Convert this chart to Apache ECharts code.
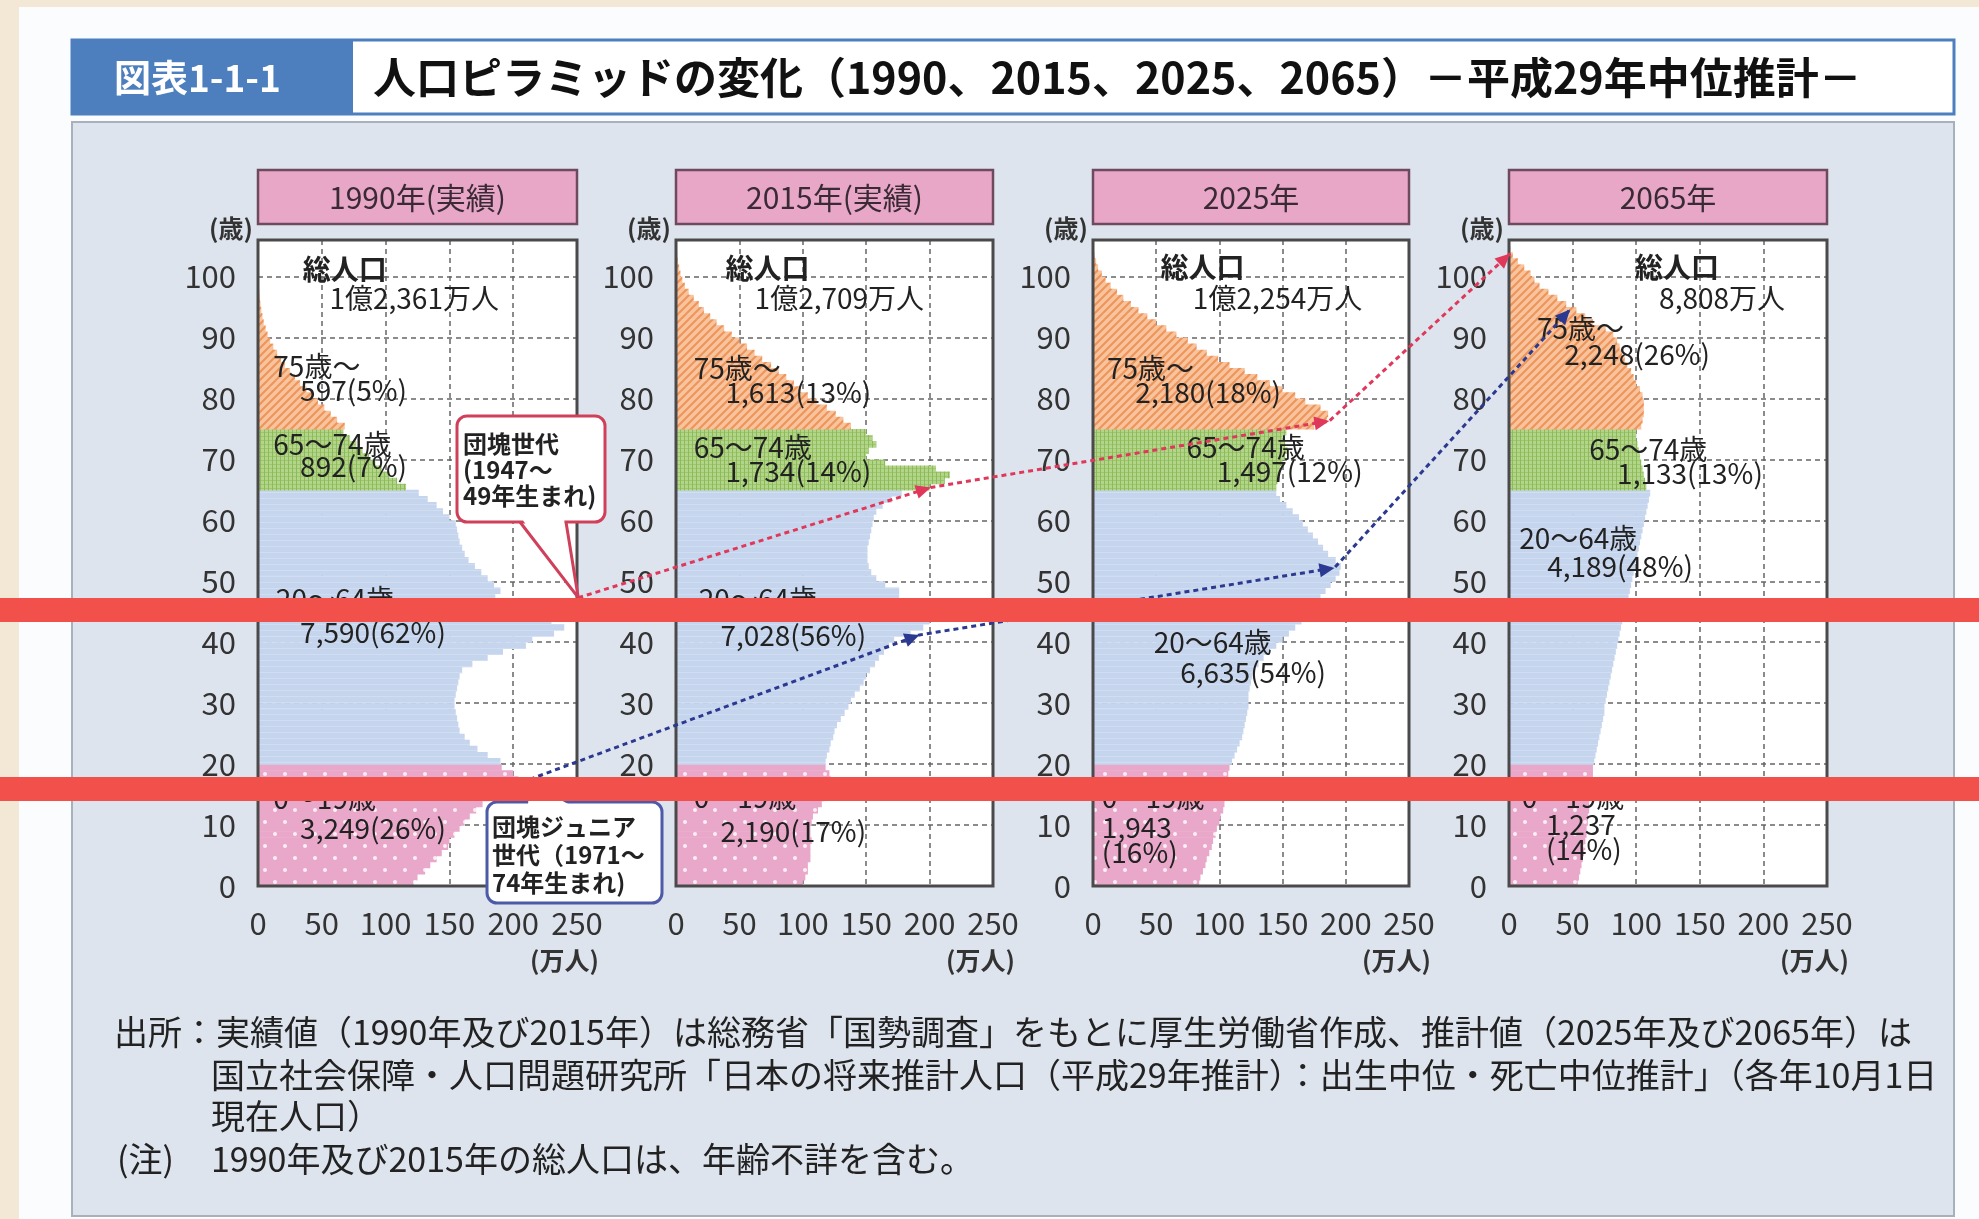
<!DOCTYPE html>
<html>
<head>
<meta charset="utf-8">
<script src="https://cdn.jsdelivr.net/npm/echarts@6/dist/echarts.min.js"></script>
<style>
html, body { margin: 0; padding: 0; background: #f3e8d6; }
#main { width: 1979px; height: 1219px; }
</style>
</head>
<body>
<div id="main"></div>
<script>
// population by single year of age, starting at age 0 (万人)
const pop1990 = [
  122, 125, 131, 135, 140, 144, 149, 150, 154, 158,
  162, 166, 171, 176, 182, 190, 198, 204, 200, 191,
  190, 180, 172, 166, 162, 158, 157, 156, 155, 154,
  154, 155, 156, 157, 158, 160, 168, 180, 192, 210,
  215, 232, 240, 230, 205, 180, 178, 186, 190, 185,
  180, 175, 170, 165, 162, 160, 158, 157, 156, 155,
  150, 145, 140, 133, 126,
  116, 109, 103, 97, 92, 87, 82, 77, 72, 67,
  68, 62, 57, 52, 47, 42, 38, 33, 29, 25,
  21, 18, 15, 12, 9.5, 7.5, 6, 4.5, 3.5, 2.6,
  2, 1.4, 1, 0.7, 0.5, 0.3, 0.2
];
const pop2015 = [
  100, 102, 104, 104, 106, 106, 106, 107, 106, 106,
  107, 108, 112, 115, 117, 119, 120, 122, 121, 118,
  118, 119, 121, 122, 124, 125, 127, 130, 133, 136,
  138, 141, 145, 148, 150, 153, 157, 160, 164, 168,
  172, 185, 195, 200, 195, 185, 180, 176, 176, 165,
  158, 154, 152, 151, 151, 151, 152, 153, 154, 155,
  156, 158, 163, 170, 178,
  200, 212, 216, 205, 165, 150, 152, 158, 155, 150,
  138, 132, 126, 119, 111, 104, 98, 93, 87, 81,
  75, 68, 62, 56, 50, 44, 38, 32, 27, 22,
  18, 14, 10, 7, 5, 3.5, 2.5, 1.5, 1, 0.6
];
const pop2025 = [
  84, 85, 87, 89, 90, 92, 94, 95, 97, 98,
  100, 101, 103, 104, 104, 105, 105, 106, 107, 108,
  110, 112, 114, 116, 118, 119, 120, 121, 122, 123,
  123, 123, 124, 125, 126, 128, 131, 135, 140, 145,
  150, 155, 160, 165, 170, 174, 177, 180, 184, 188,
  192, 195, 196, 192, 186, 182, 178, 174, 170, 166,
  163, 158, 153, 148, 145,
  145, 146, 147, 148, 150, 152, 154, 152, 150, 153,
  175, 185, 186, 180, 168, 160, 150, 140, 130, 120,
  108, 99, 90, 82, 75, 66, 58, 50, 43, 36,
  30, 24, 19, 14, 10, 7, 4, 2.5, 1.2
];
const pop2065 = [
  54, 55, 56, 57, 58, 59, 60, 60, 61, 61,
  62, 62, 63, 63, 64, 64, 65, 65, 66, 66,
  67, 68, 69, 70, 71, 72, 73, 74, 75, 75,
  76, 77, 78, 79, 80, 81, 82, 83, 84, 85,
  86, 87, 88, 89, 90, 91, 92, 94, 95, 96,
  97, 98, 99, 100, 101, 102, 103, 104, 105, 106,
  107, 108, 109, 110, 111,
  108, 107, 106, 105, 104, 103, 102, 101, 100, 100,
  104, 105, 106, 106, 106, 105, 103, 100, 98, 96,
  93, 91, 89, 87, 85, 82, 76, 66, 60, 53,
  45, 38, 31, 24, 20, 17, 12, 7, 3, 1
];
const pops = [pop1990, pop2015, pop2025, pop2065];

const panelTitles = ["1990年(実績)", "2015年(実績)", "2025年", "2065年"];
const totals = ["1億2,361万人", "1億2,709万人", "1億2,254万人", "8,808万人"];
const groupNames = ["75歳～", "65～74歳", "20～64歳", "0～19歳"];
const groupValues = [
  ["597(5%)", "892(7%)", "7,590(62%)", "3,249(26%)"],
  ["1,613(13%)", "1,734(14%)", "7,028(56%)", "2,190(17%)"],
  ["2,180(18%)", "1,497(12%)", "6,635(54%)", "1,943\n(16%)"],
  ["2,248(26%)", "1,133(13%)", "4,189(48%)", "1,237\n(14%)"]
];
const popMax = 250, popStep = 50, ageMax = 106, ageStep = 10;

// cohort paths: [panel, 万人, age]
const dankai = [[0, 251, 47.3], [1, 201, 65.4], [2, 187, 76.3], [3, 1, 103.8]];
const dankaiJr = [[0, 213, 17.5], [1, 192, 41.2], [2, 191, 52.2], [3, 48, 94.6]];

const title = "人口ピラミッドの変化（1990、2015、2025、2065）－平成29年中位推計－";
const footer = [
  "出所：実績値（1990年及び2015年）は総務省「国勢調査」をもとに厚生労働省作成、推計値（2025年及び2065年）は",
  "国立社会保障・人口問題研究所「日本の将来推計人口（平成29年推計）：出生中位・死亡中位推計」（各年10月1日",
  "現在人口）",
  "1990年及び2015年の総人口は、年齢不詳を含む。"
];

// layout
const FONT = '"Noto Sans CJK JP", "Noto Sans", sans-serif';
const grids = [
  { left: 258, top: 240, width: 319, height: 646 },
  { left: 676, top: 240, width: 317, height: 646 },
  { left: 1093, top: 240, width: 316, height: 646 },
  { left: 1509, top: 240, width: 318, height: 646 }
];
// [万人, age] anchors for: 総人口, total, then name/value for each group
const labelPos = [
  [[35, 101.2], [56, 96.5], [12, 85.2], [33, 81.4], [12, 72.4], [33, 68.8], [14, 47], [33, 41.7], [12, 14.3], [33, 9.4]],
  [[39, 101.3], [62, 96.5], [14, 85], [39, 81], [14, 72], [39, 68], [18, 47], [35, 41.2], [14, 14.5], [35, 8.9]],
  [[53.5, 101.5], [79, 96.5], [11, 85], [33.5, 81], [74, 72], [98, 68], [48, 39.9], [69, 35.1], [7, 14.5], [7, 7.6]],
  [[99, 101.5], [118, 96.5], [22, 91.5], [43.5, 87.2], [63, 71.6], [85, 67.7], [8, 57.1], [30, 52.4], [10, 14.5], [29, 8.1]]
];

function tile(w, h, paint) {
  const c = document.createElement("canvas");
  c.width = w;
  c.height = h;
  paint(c.getContext("2d"));
  return { image: c, repeat: "repeat" };
}
const fillOld = tile(8, 8, function (g) {
  g.fillStyle = "#f8c49d";
  g.fillRect(0, 0, 8, 8);
  g.strokeStyle = "#ee955c";
  g.lineWidth = 2.2;
  g.beginPath();
  g.moveTo(-1, 9); g.lineTo(9, -1);
  g.moveTo(-1, 1); g.lineTo(1, -1);
  g.moveTo(7, 9); g.lineTo(9, 7);
  g.stroke();
});
const fillSenior = tile(4, 4, function (g) {
  g.fillStyle = "#b2d58a";
  g.fillRect(0, 0, 4, 4);
  g.fillStyle = "#9cc56c";
  g.fillRect(0, 0, 4, 1);
  g.fillStyle = "#8dbb5b";
  g.fillRect(0, 0, 1, 4);
});
const fillWork = tile(4, 6, function (g) {
  g.fillStyle = "#c6d5ee";
  g.fillRect(0, 0, 4, 6);
  g.fillStyle = "#d2ddf1";
  g.fillRect(0, 0, 4, 1);
});
const fillYoung = tile(20, 24, function (g) {
  g.fillStyle = "#e9a8c9";
  g.fillRect(0, 0, 20, 24);
  g.fillStyle = "#fbeef5";
  g.beginPath(); g.arc(5, 6, 2, 0, Math.PI * 2); g.fill();
  g.beginPath(); g.arc(15, 18, 2, 0, Math.PI * 2); g.fill();
});
function fillFor(age) {
  if (age >= 75) return fillOld;
  if (age >= 65) return fillSenior;
  if (age >= 20) return fillWork;
  return fillYoung;
}

function renderBar(params, api) {
  const age = api.value(0), v = api.value(1);
  const a = api.coord([0, age + 1]);
  const b = api.coord([v, age]);
  return {
    type: "rect",
    shape: { x: a[0], y: a[1], width: b[0] - a[0], height: b[1] - a[1] + 0.6 },
    style: { fill: fillFor(age) }
  };
}

const chart = echarts.init(document.getElementById("main"));
const option = {
  backgroundColor: "#f3e8d6",
  animation: false,
  grid: grids.map(function (g) {
    return Object.assign({ show: true, backgroundColor: "#fff", borderWidth: 0 }, g);
  }),
  xAxis: grids.map(function (g, i) {
    return {
      type: "value", gridIndex: i, min: 0, max: popMax, interval: popStep,
      axisLine: { show: false }, axisTick: { show: false },
      axisLabel: { fontSize: 31, color: "#333", margin: 22, fontFamily: FONT },
      splitLine: { show: true, lineStyle: { color: "#666", width: 1.5, type: [5, 4] } }
    };
  }),
  yAxis: grids.map(function (g, i) {
    return {
      type: "value", gridIndex: i, min: 0, max: ageMax, interval: ageStep,
      axisLine: { show: false }, axisTick: { show: false },
      axisLabel: {
        fontSize: 31, color: "#333", margin: 22, fontFamily: FONT,
        formatter: function (v) { return v % ageStep === 0 ? String(v) : ""; }
      },
      splitLine: { show: true, lineStyle: { color: "#666", width: 1.5, type: [5, 4] } }
    };
  }),
  series: pops.map(function (p, i) {
    return {
      type: "custom", xAxisIndex: i, yAxisIndex: i, silent: true,
      encode: { x: 1, y: 0 },
      renderItem: renderBar,
      data: p.map(function (v, age) { return [age, v]; })
    };
  })
};
chart.setOption(option);

function px(panel, v, age) {
  return chart.convertToPixel({ gridIndex: panel }, [v, age]);
}
function text(x, y, str, opt) {
  return {
    type: "text", x: x, y: y, z: opt.z || 55, silent: true,
    style: Object.assign({
      text: str, fill: "#222", fontSize: 28, fontFamily: FONT,
      align: "left", verticalAlign: "middle"
    }, opt.style || {})
  };
}
function arrowHead(tip, from, color) {
  const dx = tip[0] - from[0], dy = tip[1] - from[1];
  const len = Math.sqrt(dx * dx + dy * dy);
  const ux = dx / len, uy = dy / len;
  const bx = tip[0] - ux * 15, by = tip[1] - uy * 15;
  return {
    type: "polygon", z: 72, silent: true,
    shape: { points: [tip, [bx - uy * 7, by + ux * 7], [bx + uy * 7, by - ux * 7]] },
    style: { fill: color }
  };
}

const gfx = [];
// page and frames
gfx.push({ type: "rect", z: -20, shape: { x: 19, y: 7, width: 1960, height: 1212 }, style: { fill: "#fbfcfd" } });
gfx.push({ type: "rect", z: -19, shape: { x: 72, y: 40, width: 1882, height: 74 }, style: { fill: "#fff", stroke: "#4d7fbf", lineWidth: 3 } });
gfx.push({ type: "rect", z: -18, shape: { x: 72, y: 40, width: 281, height: 74 }, style: { fill: "#4d7fbf" } });
gfx.push(text(114, 78, "図表1-1-1", { style: { fill: "#fff", fontSize: 37, fontWeight: "bold" } }));
gfx.push(text(373, 78, title, { style: { fill: "#111", fontSize: 43, fontWeight: "bold" } }));
gfx.push({ type: "rect", z: -19, shape: { x: 72, y: 122, width: 1882, height: 1094 }, style: { fill: "#dee4ed", stroke: "#a8b0bb", lineWidth: 2 } });

grids.forEach(function (g, i) {
  // panel heading
  gfx.push({ type: "rect", z: 5, shape: { x: g.left, y: 170, width: g.width, height: 54 }, style: { fill: "#e8a7c7", stroke: "#6e4a5e", lineWidth: 2.5 } });
  gfx.push(text(g.left + g.width / 2, 198, panelTitles[i], { style: { align: "center", fontSize: 30, fill: "#3a2a35" } }));
  // plot border
  gfx.push({ type: "rect", z: 40, silent: true, shape: { x: g.left, y: g.top, width: g.width, height: g.height }, style: { fill: null, stroke: "#4a4a4a", lineWidth: 3 } });
  // axis units
  const top = px(i, 0, ageMax), end = px(i, popMax, 0);
  gfx.push(text(top[0] - 5, top[1] - 12, "(歳)", { style: { align: "right", fontSize: 25, fontWeight: "bold", fill: "#333" } }));
  gfx.push(text(end[0] + 22, end[1] + 74, "(万人)", { style: { align: "right", fontSize: 25, fontWeight: "bold", fill: "#333" } }));
  // labels
  const strs = ["総人口", totals[i]];
  for (let k = 0; k < 4; k++) { strs.push(groupNames[k]); strs.push(groupValues[i][k]); }
  strs.forEach(function (s, k) {
    const p = px(i, labelPos[i][k][0], labelPos[i][k][1]);
    gfx.push(text(p[0], p[1], s, { style: { lineHeight: 25, fontWeight: k === 0 ? "bold" : "normal" } }));
  });
});

// cohort arrows
function cohort(path, color) {
  const pts = path.map(function (q) { return px(q[0], q[1], q[2]); });
  gfx.push({ type: "polyline", z: 70, silent: true, shape: { points: pts }, style: { stroke: color, lineWidth: 3, lineDash: [5, 4], fill: null } });
  for (let k = 1; k < pts.length; k++) gfx.push(arrowHead(pts[k], pts[k - 1], color));
}
cohort(dankai, "#e0385a");
cohort(dankaiJr, "#2b3990");

// callouts
const tipA = px(dankai[0][0], dankai[0][1], dankai[0][2]);
gfx.push({ type: "rect", z: 74, shape: { x: 457, y: 416, width: 148, height: 106, r: 10 }, style: { fill: "#fff", stroke: "#d0405a", lineWidth: 3 } });
gfx.push({ type: "polygon", z: 75, shape: { points: [[522, 519], [tipA[0], tipA[1]], [564, 519]] }, style: { fill: "#fff" } });
gfx.push({ type: "polyline", z: 76, shape: { points: [[520, 522], [tipA[0], tipA[1]], [566, 522]] }, style: { stroke: "#d0405a", lineWidth: 3, fill: null } });
gfx.push(text(463, 431, "団塊世代\n(1947～\n49年生まれ)", { z: 77, style: { verticalAlign: "top", fontSize: 24, fontWeight: "bold", lineHeight: 26 } }));

const tipB = px(dankaiJr[0][0], dankaiJr[0][1], dankaiJr[0][2]);
gfx.push({ type: "rect", z: 74, shape: { x: 487, y: 802, width: 175, height: 101, r: 10 }, style: { fill: "#fff", stroke: "#4c5aa8", lineWidth: 3 } });
gfx.push({ type: "polygon", z: 75, shape: { points: [[528, 805], [tipB[0], tipB[1] + 4], [570, 805]] }, style: { fill: "#fff" } });
gfx.push({ type: "polyline", z: 76, shape: { points: [[526, 802], [tipB[0], tipB[1] + 4], [572, 802]] }, style: { stroke: "#4c5aa8", lineWidth: 3, fill: null } });
gfx.push(text(492, 813, "団塊ジュニア\n世代（1971～\n74年生まれ)", { z: 77, style: { verticalAlign: "top", fontSize: 24, fontWeight: "bold", lineHeight: 28 } }));

// footer
gfx.push(text(114, 1032, footer[0], { style: { fontSize: 34, fill: "#222" } }));
gfx.push(text(211, 1075, footer[1], { style: { fontSize: 34, fill: "#222" } }));
gfx.push(text(211, 1116, footer[2], { style: { fontSize: 34, fill: "#222" } }));
gfx.push(text(117, 1159, "(注)", { style: { fontSize: 34, fill: "#222" } }));
gfx.push(text(211, 1159, footer[3], { style: { fontSize: 34, fill: "#222" } }));

// red bands over the picture
gfx.push({ type: "rect", z: 100, silent: true, shape: { x: 0, y: 598, width: 1979, height: 24 }, style: { fill: "#f1514a" } });
gfx.push({ type: "rect", z: 100, silent: true, shape: { x: 0, y: 777, width: 1979, height: 24 }, style: { fill: "#f1514a" } });

chart.setOption({ graphic: { elements: gfx } });
window.addEventListener("resize", function () { chart.resize(); });
</script>
</body>
</html>
